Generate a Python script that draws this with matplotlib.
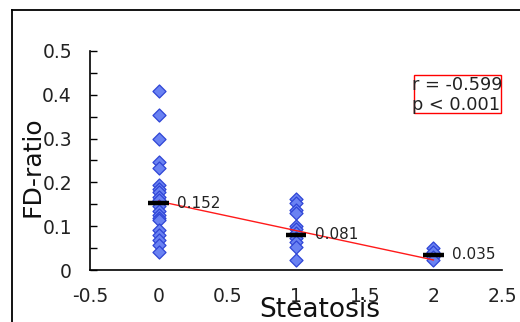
import matplotlib
matplotlib.use("Agg")
import matplotlib.pyplot as plt
from matplotlib.lines import Line2D
import numpy as np

plt.rcParams['font.family'] = ['DejaVu Sans']

# data
grade0 = [0.409, 0.353, 0.298, 0.246, 0.234, 0.194, 0.186, 0.179, 0.167, 0.160,
          0.145, 0.135, 0.126, 0.118, 0.114, 0.091, 0.080, 0.068, 0.057, 0.040]
grade1 = [0.162, 0.154, 0.137, 0.129, 0.100, 0.093, 0.084, 0.072, 0.064, 0.053, 0.023]
grade2 = [0.050, 0.042, 0.030, 0.023]
groups = [0, 1, 2]
means = [0.152, 0.081, 0.035]
mean_labels = ["0.152", "0.081", "0.035"]
reg_intercept = 0.157
reg_slope = -0.067
stats_text = "r = -0.599\np < 0.001"
xticks = [-0.5, 0, 0.5, 1, 1.5, 2, 2.5]
xtick_labels = ["-0.5", "0", "0.5", "1", "1.5", "2", "2.5"]
yticks = [0, 0.1, 0.2, 0.3, 0.4, 0.5]
ytick_labels = ["0", "0.1", "0.2", "0.3", "0.4", "0.5"]

W, H = 520, 322
fig = plt.figure(figsize=(W / 100, H / 100), dpi=100)
ax = fig.add_axes([90 / W, (H - 270) / H, 412 / W, 219 / H])

for g, vals in zip(groups, [grade0, grade1, grade2]):
    ax.scatter([g] * len(vals), vals, marker='D', s=44, facecolor='#6a82f2',
               edgecolor='#2f45d6', linewidth=0.9, zorder=3)

xr = np.array([groups[0], groups[-1]])
ax.plot(xr, reg_intercept + reg_slope * xr, color='#ff1a1a', linewidth=1.0, zorder=4)

ax.hlines(means, np.array(groups) - 0.075, np.array(groups) + 0.075,
          color='black', linewidth=3.2, zorder=5)
for g, m, lab in zip(groups, means, mean_labels):
    ax.text(g + 0.135, m, lab, fontsize=11, va='center', ha='left', color='#222222',
            zorder=6)

ax.set_xlim(-0.5, 2.5)
ax.set_ylim(0, 0.5)
ax.set_xticks(xticks)
ax.set_xticklabels(xtick_labels, fontsize=13.5, color='#222222')
ax.set_yticks(yticks)
ax.set_yticklabels(ytick_labels, fontsize=13.5, color='#222222')
ax.set_yticks(np.arange(0.05, 0.5, 0.1), minor=True)
ax.tick_params(axis='x', length=0, pad=12)
ax.tick_params(axis='y', which='both', direction='in', length=5, width=1, pad=13)
for s in ['top', 'right']:
    ax.spines[s].set_visible(False)
for s in ['left', 'bottom']:
    ax.spines[s].set_linewidth(1.2)

# stats box
fig.text(412.5 / W, 1 - 95 / H, stats_text, fontsize=12.8, ha='left',
         va='center', color='#222222', linespacing=1.1, multialignment='left', zorder=6)
fig.patches.append(plt.Rectangle((414 / W, 1 - 112.5 / H), 86.5 / W, 38 / H,
                                 transform=fig.transFigure, fill=False,
                                 edgecolor='#ff0000', linewidth=1.0))

fig.text(320 / W, 1 - 310 / H, "Steatosis", fontsize=19, ha='center', va='center',
         color='#111111')
fig.text(32 / W, 1 - 167 / H, "FD-ratio", fontsize=18, ha='center', va='center',
         rotation=90, color='#111111')

# figure border (top and left)
fig.add_artist(Line2D([12 / W, 1], [1 - 10 / H, 1 - 10 / H], transform=fig.transFigure,
                      color='black', linewidth=1.3))
fig.add_artist(Line2D([12 / W, 12 / W], [0, 1 - 10 / H], transform=fig.transFigure,
                      color='black', linewidth=1.3))

fig.savefig("out.png", dpi=100)
